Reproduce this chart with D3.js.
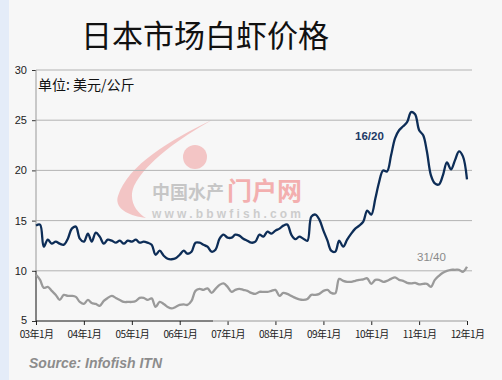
<!DOCTYPE html>
<html><head><meta charset="utf-8">
<script src="https://cdnjs.cloudflare.com/ajax/libs/d3/7.8.5/d3.min.js"></script>
<style>html,body{margin:0;padding:0;background:#f7f7f7;}svg{display:block;}</style>
</head><body>
<script>
// ---- data ----
const startMonth = "2003-01";
const series1620 = [14.5,14.6,12.4,13.1,12.7,12.9,12.7,12.6,13.2,14.2,14.4,13.2,
12.9,13.7,12.9,13.8,13.4,12.7,13.1,13.0,12.8,13.0,12.7,13.0,
12.9,13.1,12.8,12.9,12.8,12.6,11.6,12.0,11.5,11.2,11.15,11.25,
11.6,12.0,11.7,11.9,12.8,12.8,12.6,12.4,11.9,12.1,13.2,13.6,
13.3,13.3,13.6,13.5,13.2,13.0,12.8,12.9,13.6,13.4,13.9,13.7,
14.0,14.2,14.5,14.6,13.6,13.15,13.4,13.2,13.0,15.4,15.6,15.1,
14.0,13.0,12.0,11.9,13.0,12.4,13.1,13.7,14.2,14.5,14.9,16.0,
15.6,17.2,18.8,20.0,19.9,21.5,23.2,24.0,24.4,24.8,25.8,25.6,
24.0,23.5,21.9,19.5,18.7,18.6,19.5,20.8,20.1,21.0,21.9,21.4,19.1];
const series3140 = [9.6,9.1,8.3,8.4,8.0,7.6,7.1,7.6,7.5,7.5,7.4,6.9,
6.7,7.1,6.8,6.7,6.5,7.0,7.3,7.5,7.3,7.1,6.9,6.9,
6.9,7.0,7.3,7.3,7.1,7.25,6.4,6.9,6.7,6.4,6.25,6.4,
6.6,6.65,6.6,7.0,8.0,8.2,8.1,8.25,7.8,8.2,8.6,8.75,
8.4,7.9,8.1,8.2,8.1,8.0,7.8,7.7,7.9,7.9,7.9,8.0,
8.1,7.5,7.8,7.7,7.5,7.3,7.15,7.1,7.2,7.6,7.6,7.7,
8.0,8.1,7.8,7.75,9.2,9.0,8.9,8.9,9.0,9.1,9.15,9.25,
8.7,9.1,9.1,8.9,9.0,9.2,9.35,9.1,9.0,8.8,8.75,8.8,
8.65,8.7,8.7,8.4,9.1,9.5,9.8,10.0,10.1,10.1,10.1,9.9,10.4];
const yTicks = [5,10,15,20,25,30];
const xTickLabels = ["03年1月","04年1月","05年1月","06年1月","07年1月","08年1月","09年1月","10年1月","11年1月","12年1月"];
const seriesNames = ["16/20","31/40"];

// ---- chart ----
const W = 502, H = 380;
const svg = d3.select("body").append("svg").attr("width", W).attr("height", H);
svg.append("rect").attr("width", W).attr("height", H).attr("fill", "#f7f7f7");
svg.append("rect").attr("width", 9).attr("height", H).attr("fill", "#e4ecf8");

const parse = d3.timeParse("%Y-%m");
const t0 = parse(startMonth);
const dates = series1620.map((_, i) => d3.timeMonth.offset(t0, i));
const tickDates = xTickLabels.map((_, i) => d3.timeYear.offset(t0, i));

const x = d3.scaleTime().domain([t0, tickDates[tickDates.length - 1]]).range([36, 467]);
const y = d3.scaleLinear().domain([5, 30]).range([321, 70]);

// watermark
const wm = svg.append("g").attr("opacity", 0.45);
wm.append("path")
  .attr("d", "M212,120 C170,140 128,165 118,196 C114,208 128,216 146,218 C136,212 128,200 134,186 C146,162 180,138 212,120 Z")
  .attr("fill", "#f08a8a");
wm.append("circle").attr("cx", 195).attr("cy", 157).attr("r", 12).attr("fill", "#f08a8a");
wm.append("text").attr("x", 152).attr("y", 199).attr("font-family", "Noto Sans CJK SC")
  .attr("font-size", 18).attr("font-weight", 700).attr("fill", "#8c8c8c").text("中国水产");
wm.append("text").attr("x", 227).attr("y", 200).attr("font-family", "Noto Sans CJK SC")
  .attr("font-size", 25).attr("font-weight", 700).attr("fill", "#ef5a5a").text("门户网");
wm.append("text").attr("x", 152).attr("y", 218).attr("font-family", "Arial, Liberation Sans")
  .attr("font-size", 12).attr("font-weight", 700).attr("letter-spacing", 3.2).attr("fill", "#9a9a9a").text("www.bbwfish.com");

// gridlines
svg.append("g").selectAll("line").data(yTicks.filter(v => v > 5)).join("line")
  .attr("x1", 36).attr("x2", 472).attr("y1", d => y(d)).attr("y2", d => y(d))
  .attr("stroke", "#b3b3b3").attr("stroke-width", 1);

// y axis
const yAxis = svg.append("g").attr("transform", "translate(36,0)")
  .call(d3.axisLeft(y).tickValues(yTicks).tickSize(4).tickPadding(5));
yAxis.select(".domain").remove();
yAxis.selectAll("line").attr("stroke", "#333");
yAxis.selectAll("text").attr("font-family", "Arial, Liberation Sans").attr("font-size", 11).attr("fill", "#222");
yAxis.selectAll(".tick").filter(d => d === 5).select("text").attr("dy", "0.2em");
svg.append("line").attr("x1", 36).attr("x2", 36).attr("y1", y(30)).attr("y2", y(10)).attr("stroke", "#999");
svg.append("line").attr("x1", 36).attr("x2", 36).attr("y1", y(10)).attr("y2", y(5)).attr("stroke", "#111");

// x axis
const xAxis = svg.append("g").attr("transform", "translate(0,321)")
  .call(d3.axisBottom(x).tickValues(tickDates).tickSize(4).tickPadding(6)
    .tickFormat((d, i) => xTickLabels[i]));
xAxis.select(".domain").remove();
xAxis.selectAll("line").attr("stroke", "#222");
xAxis.selectAll("text").attr("font-family", "Noto Sans CJK SC").attr("font-size", 10).attr("fill", "#222")
  .attr("letter-spacing", -0.6);
svg.append("line").attr("x1", 36).attr("x2", 213).attr("y1", 321).attr("y2", 321).attr("stroke", "#111");
svg.append("line").attr("x1", 213).attr("x2", 467).attr("y1", 321).attr("y2", 321).attr("stroke", "#999");

// lines
const line = d3.line().x((d, i) => x(dates[i])).y(d => y(d)).curve(d3.curveCatmullRom.alpha(0.5));
svg.append("path").datum(series3140).attr("d", line).attr("fill", "none")
  .attr("stroke", "#9a9a9a").attr("stroke-width", 2.3);
svg.append("path").datum(series1620).attr("d", line).attr("fill", "none")
  .attr("stroke", "#0d2d57").attr("stroke-width", 2.3);

// series labels
svg.append("text").attr("x", 355).attr("y", 140).attr("font-family", "Arial, Liberation Sans")
  .attr("font-size", 11.5).attr("font-weight", 700).attr("fill", "#1d3a66").text(seriesNames[0]);
svg.append("text").attr("x", 417).attr("y", 261).attr("font-family", "Arial, Liberation Sans")
  .attr("font-size", 11.5).attr("fill", "#8a8a8a").text(seriesNames[1]);

// title & unit
svg.append("text").attr("x", 205).attr("y", 47).attr("text-anchor", "middle")
  .attr("font-family", "Noto Sans CJK SC").attr("font-size", 31).attr("fill", "#111").text("日本市场白虾价格");
svg.append("text").attr("x", 38).attr("y", 90)
  .attr("font-family", "Noto Sans CJK SC").attr("font-size", 14).attr("fill", "#111").text("单位: 美元/公斤");

// source
svg.append("text").attr("x", 29).attr("y", 368)
  .attr("font-family", "Arial, Liberation Sans").attr("font-size", 14).attr("font-weight", 700)
  .attr("font-style", "italic").attr("fill", "#8c8c8c").text("Source: Infofish ITN");
</script>
</body></html>
